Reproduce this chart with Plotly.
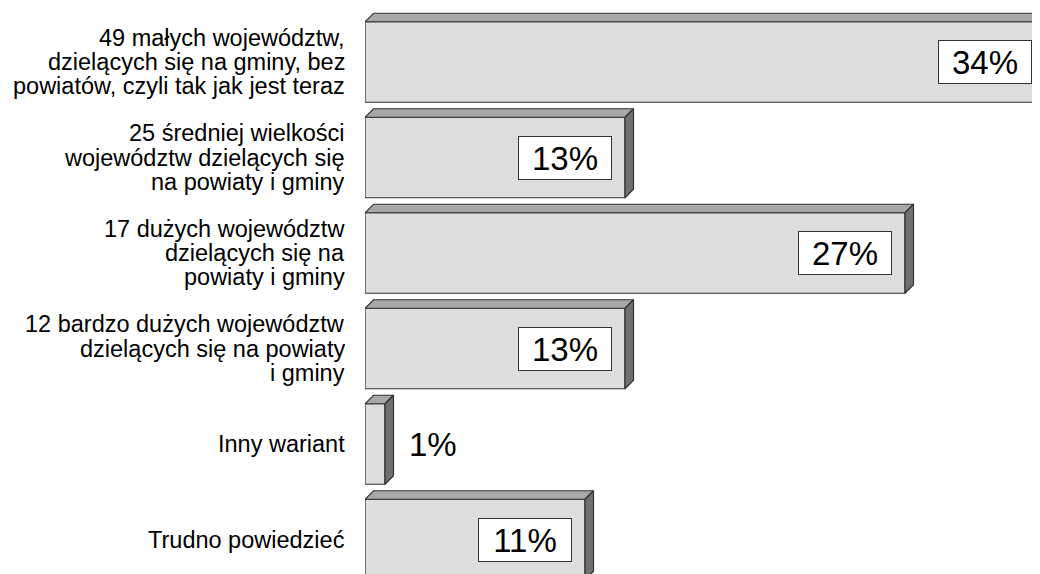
import plotly.graph_objects as go

# ---- data ----
categories = [
    "49 małych województw,\ndzielących się na gminy, bez\npowiatów, czyli tak jak jest teraz",
    "25 średniej wielkości\nwojewództw dzielących się\nna powiaty i gminy",
    "17 dużych województw\ndzielących się na\npowiaty i gminy",
    "12 bardzo dużych województw\ndzielących się na powiaty\ni gminy",
    "Inny wariant",
    "Trudno powiedzieć",
]
values = [34, 13, 27, 13, 1, 11]
value_labels = ["34%", "13%", "27%", "13%", "1%", "11%"]

# ---- layout constants ----
W, H = 1032, 566             # page body has an 8px margin
L_MARGIN = 357
PX_PER_UNIT = 20.0           # px per percentage point
PITCH = 95.5                 # px per category
FIRST_CENTER = 54.0          # px from top to first bar centre
BAR_W = 0.843                # in category units
DEPTH_PX = 8.5
FONT = "Liberation Sans, Arial, sans-serif"

x_max = (W - L_MARGIN) / PX_PER_UNIT
y_top = -FIRST_CENTER / PITCH
y_bottom = y_top + H / PITCH
dx = DEPTH_PX / PX_PER_UNIT
dy = DEPTH_PX / PITCH

ypos = list(range(len(categories)))

fig = go.Figure()

# front faces
fig.add_trace(go.Bar(
    x=values, y=ypos, orientation="h", width=BAR_W,
    marker=dict(color="#DDDDDD", line=dict(color="#333333", width=1.2)),
    hoverinfo="skip", showlegend=False,
))

# top and side faces
for v, y in zip(values, ypos):
    yt = y - BAR_W / 2
    yb = y + BAR_W / 2
    fig.add_trace(go.Scatter(
        x=[0, v, v + dx, dx, 0], y=[yt, yt, yt - dy, yt - dy, yt],
        mode="lines", fill="toself", fillcolor="#A8A8A8",
        line=dict(color="#333333", width=1.2), hoverinfo="skip", showlegend=False,
    ))
    fig.add_trace(go.Scatter(
        x=[v, v + dx, v + dx, v, v], y=[yt, yt - dy, yb - dy, yb, yt],
        mode="lines", fill="toself", fillcolor="#707070",
        line=dict(color="#333333", width=1.2), hoverinfo="skip", showlegend=False,
    ))

annotations = []
# category labels (one annotation per line for tight line spacing)
LINE_H = 24.4
for cat, y in zip(categories, ypos):
    lines = cat.split("\n")
    n = len(lines)
    for k, line in enumerate(lines):
        annotations.append(dict(
            xref="paper", x=0, xanchor="right", xshift=-19,
            yref="y", y=y, yanchor="middle", yshift=((n - 1) / 2 - k) * LINE_H - 1,
            text=line, showarrow=False, align="right",
            height=24, valign="bottom", borderpad=0,
            font=dict(family=FONT, size=23.5, color="#000000"),
        ))

# value labels (paper x so labels of bars running past the edge stay visible)
for v, y, lab in zip(values, ypos, value_labels):
    if v * PX_PER_UNIT > 120:
        annotations.append(dict(
            x=v / x_max, y=y, xref="paper", yref="y", xanchor="right", yanchor="middle",
            xshift=-13, text=lab, showarrow=False,
            bgcolor="#FFFFFF", bordercolor="#333333", borderwidth=1,
            borderpad=3, width=86, height=36, align="center", valign="middle",
            font=dict(family=FONT, size=33, color="#000000"),
        ))
    else:
        annotations.append(dict(
            x=(v + dx) / x_max, y=y, xref="paper", yref="y", xanchor="left", yanchor="middle",
            xshift=13, text=lab, showarrow=False,
            font=dict(family=FONT, size=33, color="#000000"),
        ))

fig.update_layout(
    width=W, height=H,
    margin=dict(l=L_MARGIN, r=0, t=0, b=0),
    paper_bgcolor="#FFFFFF", plot_bgcolor="#FFFFFF",
    xaxis=dict(range=[0, x_max], visible=False, fixedrange=True),
    yaxis=dict(range=[y_bottom, y_top], visible=False, fixedrange=True),
    annotations=annotations,
    showlegend=False,
    barmode="overlay",
)

fig.write_html("out.html")
